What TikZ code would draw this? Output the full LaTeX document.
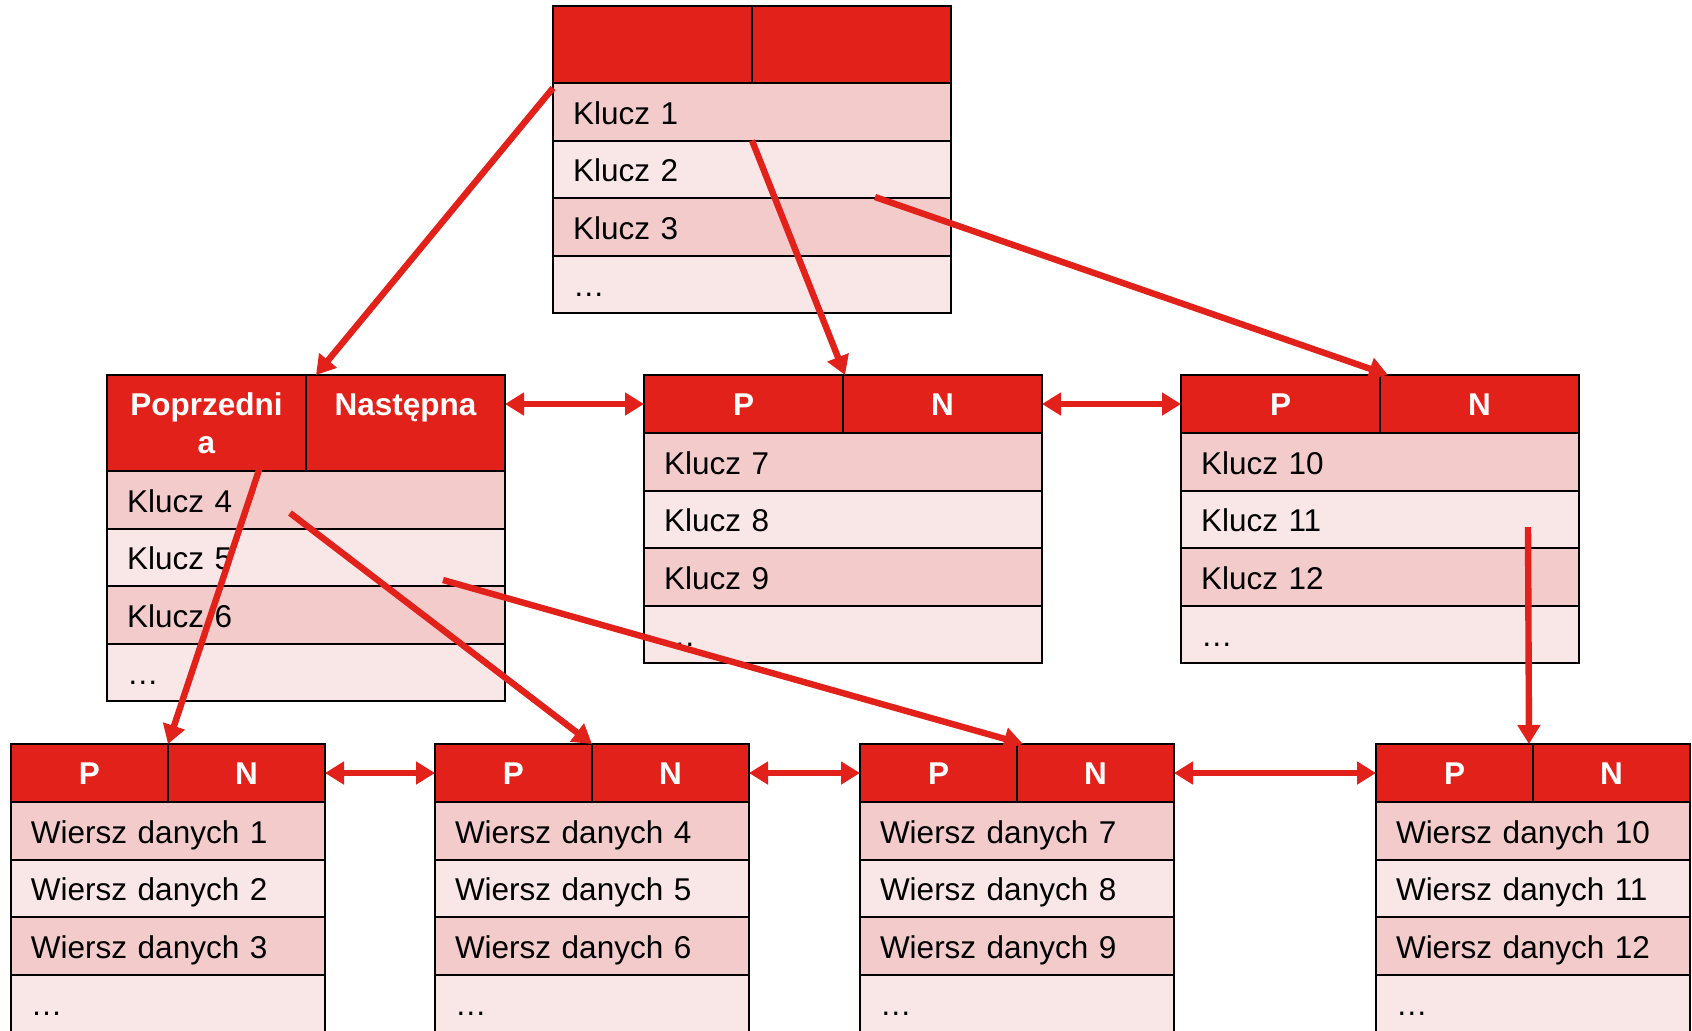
\documentclass[tikz,border=0pt]{standalone}
\usepackage{fontspec}
\setmainfont{Liberation Sans}
\usetikzlibrary{arrows.meta,positioning}
\definecolor{czerwony}{RGB}{226,34,26}
\definecolor{rozC}{RGB}{243,203,203}
\definecolor{rozJ}{RGB}{249,230,230}

\begin{document}
\begin{tikzpicture}[x=0.5pt,y=-0.5pt,
    glowa/.style={draw,line width=1pt,fill=czerwony,text=white,
      font=\fontsize{15.75}{19}\selectfont\bfseries,inner sep=0pt,outer sep=0pt,
      align=center,text width=#1,text height=20pt,text depth=9pt},
    glowa/.default=99.5pt,
    wiersz/.style={draw,line width=1pt,font=\fontsize{15.75}{19}\selectfont,
      inner xsep=10pt,inner ysep=0pt,outer sep=0pt,align=left,text width=#1,
      text height=20.5pt,text depth=8.25pt},
    wiersz/.default=179pt,
    ciemny/.style={wiersz=#1,fill=rozC}, ciemny/.default=179pt,
    jasny/.style={wiersz=#1,fill=rozJ}, jasny/.default=179pt,
    grot/.tip={Triangle[length=9.5pt,width=11pt]},
    strzalka/.style={draw=czerwony,line width=3.2pt,-grot},
    dwie/.style={draw=czerwony,line width=3.2pt,grot-grot}]
\useasboundingbox (0,0) rectangle (1692,1030);

% korzen
\node[glowa,text depth=18.5pt,anchor=north west] (korzen-p) at (553,6) {};
\node[glowa,text depth=18.5pt,right=0pt of korzen-p] (korzen-n) {};
\node[ciemny,anchor=north west] (korzen-1) at (korzen-p.south west) {Klucz 1};
\node[jasny,below=0pt of korzen-1] (korzen-2) {Klucz 2};
\node[ciemny,below=0pt of korzen-2] (korzen-3) {Klucz 3};
\node[jasny,below=0pt of korzen-3] (korzen-4) {…};

% wezly posrednie
\node[glowa,text depth=28pt,anchor=north west] (wezelA-p) at (107,375) {Poprzedni\\a};
\node[glowa,text depth=28pt,right=0pt of wezelA-p] (wezelA-n) {Następna};
\node[ciemny,anchor=north west] (wezelA-1) at (wezelA-p.south west) {Klucz 4};
\node[jasny,below=0pt of wezelA-1] (wezelA-2) {Klucz 5};
\node[ciemny,below=0pt of wezelA-2] (wezelA-3) {Klucz 6};
\node[jasny,below=0pt of wezelA-3] (wezelA-4) {…};

\node[glowa,anchor=north west] (wezelB-p) at (644,375) {P};
\node[glowa,right=0pt of wezelB-p] (wezelB-n) {N};
\node[ciemny,anchor=north west] (wezelB-1) at (wezelB-p.south west) {Klucz 7};
\node[jasny,below=0pt of wezelB-1] (wezelB-2) {Klucz 8};
\node[ciemny,below=0pt of wezelB-2] (wezelB-3) {Klucz 9};
\node[jasny,below=0pt of wezelB-3] (wezelB-4) {…};

\node[glowa,anchor=north west] (wezelC-p) at (1181,375) {P};
\node[glowa,right=0pt of wezelC-p] (wezelC-n) {N};
\node[ciemny,anchor=north west] (wezelC-1) at (wezelC-p.south west) {Klucz 10};
\node[jasny,below=0pt of wezelC-1] (wezelC-2) {Klucz 11};
\node[ciemny,below=0pt of wezelC-2] (wezelC-3) {Klucz 12};
\node[jasny,below=0pt of wezelC-3] (wezelC-4) {…};

% liscie
\node[glowa=78.5pt,anchor=north west] (lisc1-p) at (11,744) {P};
\node[glowa=78.5pt,right=0pt of lisc1-p] (lisc1-n) {N};
\node[ciemny=137pt,anchor=north west] (lisc1-1) at (lisc1-p.south west) {Wiersz danych 1};
\node[jasny=137pt,below=0pt of lisc1-1] (lisc1-2) {Wiersz danych 2};
\node[ciemny=137pt,below=0pt of lisc1-2] (lisc1-3) {Wiersz danych 3};
\node[jasny=137pt,below=0pt of lisc1-3] (lisc1-4) {…};

\node[glowa=78.5pt,anchor=north west] (lisc2-p) at (435,744) {P};
\node[glowa=78.5pt,right=0pt of lisc2-p] (lisc2-n) {N};
\node[ciemny=137pt,anchor=north west] (lisc2-1) at (lisc2-p.south west) {Wiersz danych 4};
\node[jasny=137pt,below=0pt of lisc2-1] (lisc2-2) {Wiersz danych 5};
\node[ciemny=137pt,below=0pt of lisc2-2] (lisc2-3) {Wiersz danych 6};
\node[jasny=137pt,below=0pt of lisc2-3] (lisc2-4) {…};

\node[glowa=78.5pt,anchor=north west] (lisc3-p) at (860,744) {P};
\node[glowa=78.5pt,right=0pt of lisc3-p] (lisc3-n) {N};
\node[ciemny=137pt,anchor=north west] (lisc3-1) at (lisc3-p.south west) {Wiersz danych 7};
\node[jasny=137pt,below=0pt of lisc3-1] (lisc3-2) {Wiersz danych 8};
\node[ciemny=137pt,below=0pt of lisc3-2] (lisc3-3) {Wiersz danych 9};
\node[jasny=137pt,below=0pt of lisc3-3] (lisc3-4) {…};

\node[glowa=78.5pt,anchor=north west] (lisc4-p) at (1376,744) {P};
\node[glowa=78.5pt,right=0pt of lisc4-p] (lisc4-n) {N};
\node[ciemny=137pt,anchor=north west] (lisc4-1) at (lisc4-p.south west) {Wiersz danych 10};
\node[jasny=137pt,below=0pt of lisc4-1] (lisc4-2) {Wiersz danych 11};
\node[ciemny=137pt,below=0pt of lisc4-2] (lisc4-3) {Wiersz danych 12};
\node[jasny=137pt,below=0pt of lisc4-3] (lisc4-4) {…};

% poczatki wskaznikow
\coordinate (w1) at (553,88);
\coordinate (w3) at (875,197);
\coordinate (w4) at (263,458);
\coordinate (w5) at (290,513);
\coordinate (w6) at (443,580);
\coordinate (w7) at (1528,527);

% wskazniki w dol
\draw[strzalka] (w1) -- ([xshift=5pt]wezelA-p.north east);
\draw[strzalka] (korzen-2.north) -- ([xshift=1pt]wezelB-p.north east);
\draw[strzalka] (w3) -- ([xshift=4pt]wezelC-p.north east);
\draw[strzalka] (w4) -- (lisc1-p.north east);
\draw[strzalka] (w5) -- (lisc2-p.north east);
\draw[strzalka] (w6) -- ([xshift=3pt]lisc3-p.north east);
\draw[strzalka] (w7) -- ([xshift=-2pt]lisc4-p.north east);

% powiazania poziome
\draw[dwie] (wezelA-n.east |- wezelB-p.west) -- (wezelB-p.west);
\draw[dwie] (wezelB-n.east) -- (wezelC-p.west);
\draw[dwie] (lisc1-n.east) -- (lisc2-p.west);
\draw[dwie] (lisc2-n.east) -- (lisc3-p.west);
\draw[dwie] (lisc3-n.east) -- (lisc4-p.west);
\end{tikzpicture}
\end{document}
